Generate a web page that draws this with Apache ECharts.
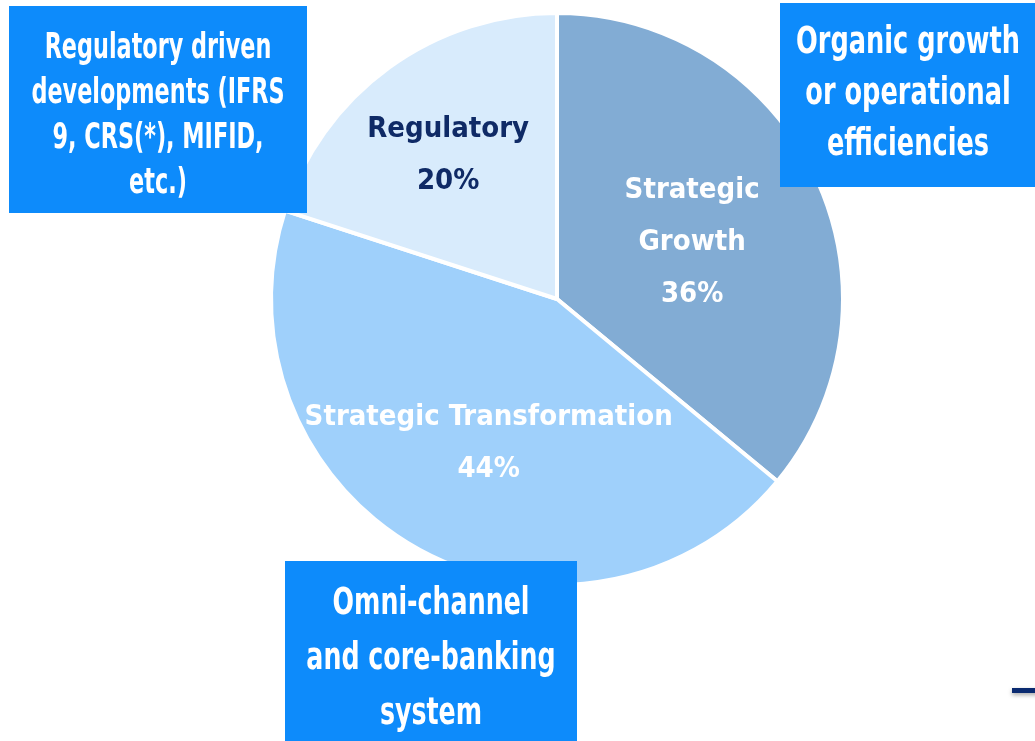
<!DOCTYPE html>
<html>
  <head>
    <meta charset="utf-8" />
    <title>ECharts</title>
    <script src="https://cdn.jsdelivr.net/npm/echarts@6.0.0/dist/echarts.min.js"></script>
    <style>
      html, body { margin: 0; padding: 0; background: #fff; }
    </style>
  </head>
  <body>
    <div id="main" style="width: 1035px; height: 741px"></div>

    <script type="text/javascript">
      // slice data
      const names = ['Strategic\nGrowth', 'Strategic Transformation', 'Regulatory']
      const values = [36, 44, 20]
      const colors = ['#82acd4', '#9fd0fb', '#d8ebfc']
      const labelColors = ['#ffffff', '#ffffff', '#0f2a66']

      // callout boxes
      const boxTexts = [
        'Regulatory driven\ndevelopments (IFRS\n9, CRS(*), MIFID,\netc.)',
        'Organic growth\nor operational\nefficiencies',
        'Omni-channel\nand core-banking\nsystem',
      ]

      const font = '"DejaVu Sans Condensed", sans-serif'
      const boxBlue = '#0d8bfb'

      var myChart = echarts.init(document.getElementById('main'))

      // small nudges so labels sit where the original put them
      const labelShift = [
        { dx: 3, dy: 6 },
        { dx: 2, dy: 17 },
        { dx: -23, dy: -25 },
      ]

      // blue box with centred, horizontally squeezed text
      function box(x, y, w, h, text, opt) {
        return {
          type: 'group',
          x: x,
          y: y,
          z: 100,
          children: [
            { type: 'rect', z: 100, shape: { x: 0, y: 0, width: w, height: h }, style: { fill: boxBlue } },
            {
              type: 'text',
              z: 101,
              x: w / 2,
              y: h / 2 + opt.dy,
              scaleX: opt.sx,
              style: {
                text: text,
                fill: '#fff',
                font: 'bold ' + opt.size + 'px ' + font,
                lineHeight: opt.lh,
                align: 'center',
                verticalAlign: 'middle',
              },
            },
          ],
        }
      }

      option = {
        animation: false,
        series: [
          {
            type: 'pie',
            center: [557, 299],
            radius: 286,
            startAngle: 90,
            clockwise: true,
            label: {
              show: true,
              position: 'inner',
              fontFamily: font,
              fontWeight: 'bold',
              fontSize: 29,
              lineHeight: 52,
              formatter: (p) => p.name + '\n' + p.value + '%',
            },
            labelLine: { show: false },
            labelLayout: (p) => labelShift[p.dataIndex],
            itemStyle: { borderColor: '#fff', borderWidth: 4 },
            data: names.map((n, i) => ({
              name: n,
              value: values[i],
              itemStyle: { color: colors[i] },
              label: { color: labelColors[i] },
            })),
          },
        ],
        graphic: [
          box(9, 6, 298, 207, boxTexts[0], { size: 36, sx: 0.69, lh: 45, dy: 7 }),
          box(780, 3, 256, 184, boxTexts[1], { size: 37, sx: 0.77, lh: 51, dy: -1 }),
          box(285, 561, 292, 190, boxTexts[2], { size: 37, sx: 0.76, lh: 55, dy: 3 }),
          {
            type: 'rect',
            z: 100,
            x: 1012,
            y: 688,
            shape: { width: 30, height: 5 },
            style: { fill: '#0a2a70', shadowBlur: 4, shadowColor: 'rgba(0,0,0,0.35)', shadowOffsetY: 2 },
          },
        ],
      }

      myChart.setOption(option)
    </script>
  </body>
</html>
